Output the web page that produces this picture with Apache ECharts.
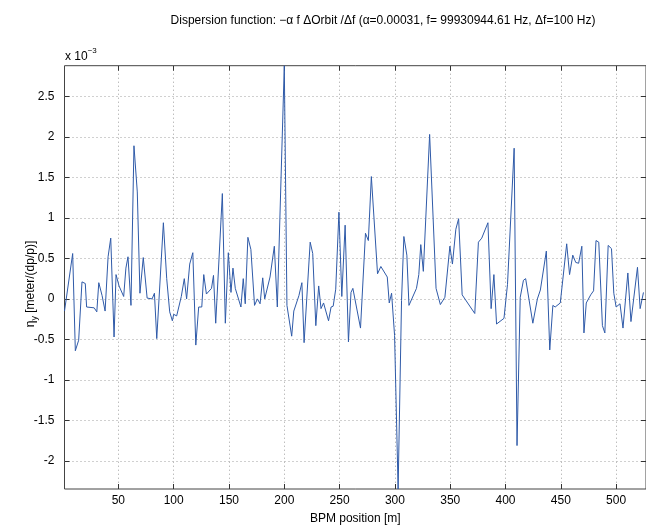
<!DOCTYPE html>
<html>
<head>
<meta charset="utf-8">
<script src="https://cdn.jsdelivr.net/npm/echarts@6/dist/echarts.min.js"></script>
<style>
  html, body { margin: 0; padding: 0; background: #fff; }
  #chart { width: 646px; height: 530px; }
</style>
</head>
<body>
<div id="chart"></div>
<script>
// BPM positions [m] and vertical dispersion (x 1e-3 m/(dp/p))
var bpmPos = [1.3, 8.7, 11.1, 14.1, 17.1, 20.1, 21.3, 28.1, 30.5, 32.3, 35.3, 38.0, 40.7, 43.1, 46.1, 47.9,
  50.6, 54.8, 56.8, 58.7, 61.4, 64.1, 67.1, 69.5, 72.5, 76.0, 80.5, 82.6, 84.7, 90.7, 93.7, 96.4,
  98.8, 100.0, 102.7, 106.9, 109.6, 111.7, 114.5, 117.3, 120.0, 122.6, 125.4, 127.2, 129.6, 134.2, 136.0, 138.0,
  144.0, 146.7, 149.4, 151.8, 153.6, 155.7, 160.8, 162.9, 164.7, 167.1, 169.8, 173.1, 175.7, 178.1, 180.5, 182.3,
  187.1, 191.0, 193.7, 200.0, 202.4, 206.7, 208.6, 213.2, 215.9, 217.9, 223.4, 225.7, 228.5, 231.1, 233.2, 235.5,
  240.0, 242.3, 244.2, 246.5, 249.4, 252.0, 255.0, 258.0, 260.3, 262.0, 268.9, 273.4, 276.0, 278.7, 284.3, 287.3,
  293.1, 294.9, 297.0, 299.7, 302.9, 306.0, 308.1, 310.8, 312.7, 319.5, 321.6, 323.4, 325.7, 331.4, 337.2, 341.1,
  345.2, 349.7, 352.0, 355.1, 357.6, 360.8, 372.2, 375.5, 378.5, 384.1, 387.0, 389.5, 391.9, 393.5, 398.6, 401.8,
  407.8, 410.4, 413.3, 416.2, 418.2, 424.7, 428.8, 431.5, 436.9, 440.0, 442.8, 444.9, 449.5, 455.3, 457.9, 460.8,
  463.5, 466.1, 469.0, 470.9, 473.0, 477.0, 479.6, 481.8, 484.3, 487.6, 489.8, 492.8, 495.8, 497.9, 500.0, 503.5,
  506.2, 510.6, 513.4, 519.3, 521.7, 524.7];
var etaY = [-0.15, 0.56, -0.64, -0.51, 0.21, 0.19, -0.10, -0.11, -0.16, 0.20, 0.04, -0.15, 0.52, 0.75, -0.47, 0.30,
  0.16, 0.03, 0.38, 0.52, -0.08, 1.89, 1.32, 0.07, 0.51, 0.01, 0.00, 0.07, -0.49, 0.94, 0.25, -0.16,
  -0.27, -0.19, -0.21, 0.03, 0.25, 0.00, 0.43, 0.57, -0.57, -0.10, -0.10, 0.30, 0.06, 0.13, 0.29, -0.30,
  1.30, -0.30, 0.57, 0.08, 0.38, 0.13, -0.10, 0.25, -0.06, 0.76, 0.61, -0.08, 0.00, -0.06, 0.26, 0.00,
  0.27, 0.65, -0.10, 2.878, -0.08, -0.46, -0.15, 0.04, 0.20, -0.54, 0.70, 0.56, -0.33, 0.16, -0.12, -0.05,
  -0.27, -0.10, -0.09, 0.12, 1.07, 0.03, 0.91, -0.53, 0.08, 0.13, -0.36, 0.81, 0.72, 1.51, 0.31, 0.40,
  0.27, -0.05, 0.07, -0.45, -2.346, -0.02, 0.77, 0.54, -0.08, 0.13, 0.30, 0.67, 0.34, 2.03, 0.13, -0.07,
  0.02, 0.65, 0.43, 0.86, 0.99, 0.05, -0.18, 0.70, 0.75, 0.94, -0.12, 0.30, -0.31, -0.33, -0.24, 0.18,
  1.86, -1.81, 0.02, 0.23, 0.25, -0.30, 0.00, 0.11, 0.59, -0.63, -0.08, -0.10, -0.05, 0.68, 0.30, 0.54,
  0.45, 0.44, 0.65, -0.42, -0.05, 0.05, 0.10, 0.72, 0.70, -0.33, -0.42, 0.66, 0.62, 0.07, -0.10, -0.06,
  -0.36, 0.32, -0.28, 0.39, -0.12, 0.08];
var xTicks = [50, 100, 150, 200, 250, 300, 350, 400, 450, 500];
var yTicks = [-2, -1.5, -1, -0.5, 0, 0.5, 1, 1.5, 2, 2.5];

var FONT = "'Liberation Sans', Arial, sans-serif";
var data = bpmPos.map(function (x, i) { return [x, etaY[i]]; });

var myChart = echarts.init(document.getElementById("chart"));

var tickStyle = { color: "#333", width: 1 };
var gridLine = { color: "#a0a0a0", width: 1, type: [1, 3] };

var option = {
  backgroundColor: "#fff",
  animation: false,
  title: {
    text: "Dispersion function: \u2212\u03b1 f \u0394Orbit /\u0394f (\u03b1=0.00031, f= 99930944.61 Hz, \u0394f=100 Hz)",
    left: 378,
    top: 10,
    textAlign: "center",
    textStyle: { fontFamily: FONT, fontSize: 12, fontWeight: "normal", color: "#000" }
  },
  grid: {
    left: 64.5,
    top: 65.7,
    width: 585,
    height: 425.3,
    show: true,
    borderColor: "#444",
    borderWidth: 1,
    backgroundColor: "#fff"
  },
  xAxis: [
    {
      type: "value",
      min: 1.3,
      max: 527,
      position: "bottom",
      axisLine: { show: false, onZero: false },
      axisTick: { inside: true, length: 5, customValues: xTicks, lineStyle: tickStyle },
      axisLabel: { customValues: xTicks, color: "#000", fontFamily: FONT, fontSize: 12, margin: 6 },
      splitLine: { show: true, lineStyle: gridLine },
      name: "BPM position [m]",
      nameLocation: "middle",
      nameGap: 24,
      nameTextStyle: { color: "#000", fontFamily: FONT, fontSize: 12 }
    },
    {
      type: "value",
      min: 1.3,
      max: 527,
      position: "top",
      axisLine: { show: false, onZero: false },
      axisTick: { inside: true, length: 5, customValues: xTicks, lineStyle: tickStyle },
      axisLabel: { show: false },
      splitLine: { show: false }
    }
  ],
  yAxis: [
    {
      type: "value",
      min: -2.346,
      max: 2.878,
      position: "left",
      axisLine: { show: false, onZero: false },
      axisTick: { inside: true, length: 5, customValues: yTicks, lineStyle: tickStyle },
      axisLabel: { customValues: yTicks, color: "#000", fontFamily: FONT, fontSize: 12, margin: 10 },
      splitLine: { show: true, lineStyle: gridLine }
    },
    {
      type: "value",
      min: -2.346,
      max: 2.878,
      position: "right",
      axisLine: { show: false, onZero: false },
      axisTick: { inside: true, length: 5, customValues: yTicks, lineStyle: tickStyle },
      axisLabel: { show: false },
      splitLine: { show: false }
    }
  ],
  graphic: [
    {
      type: "text",
      x: 65,
      y: 47,
      style: {
        text: "{a|x 10}{b|\u22123}",
        fill: "#000",
        rich: {
          a: { fontFamily: FONT, fontSize: 12, lineHeight: 16, verticalAlign: "bottom" },
          b: { fontFamily: FONT, fontSize: 8, lineHeight: 8, verticalAlign: "top" }
        }
      }
    },
    {
      type: "text",
      x: 31,
      y: 284,
      rotation: Math.PI / 2,
      style: {
        text: "{a|\u03b7}{b|y}{a| [meter/(dp/p)]}",
        fill: "#000",
        align: "center",
        verticalAlign: "middle",
        rich: {
          a: { fontFamily: FONT, fontSize: 12, lineHeight: 16, verticalAlign: "middle" },
          b: { fontFamily: FONT, fontSize: 9, lineHeight: 9, verticalAlign: "bottom" }
        }
      }
    }
  ],
  series: [
    {
      name: "eta_y",
      type: "line",
      xAxisIndex: 0,
      yAxisIndex: 0,
      data: data,
      showSymbol: false,
      clip: true,
      lineStyle: { color: "#2f5aa8", width: 1 },
      itemStyle: { color: "#2f5aa8" }
    }
  ]
};
myChart.setOption(option);
</script>
</body>
</html>
